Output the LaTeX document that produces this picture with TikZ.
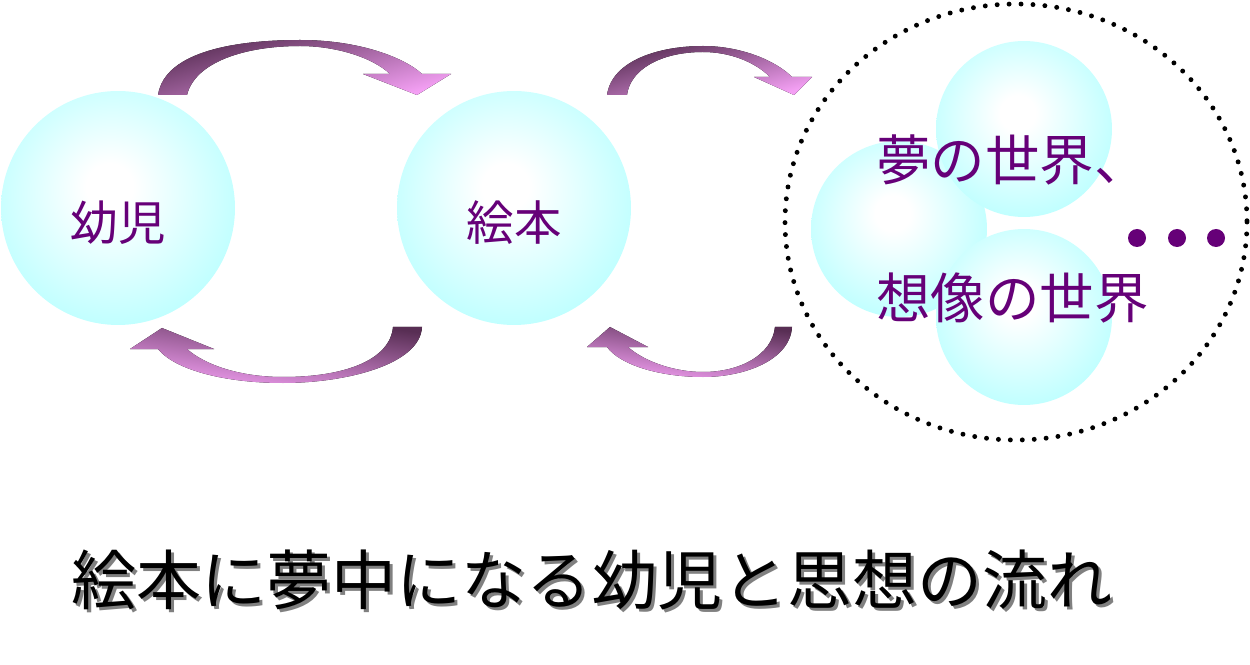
\documentclass[tikz,border=0pt]{standalone}
\usepackage{fontspec}
\newfontfamily\jp{Noto Sans CJK JP}

\definecolor{bubblecyan}{RGB}{182,255,255}
\definecolor{inkpurple}{RGB}{102,0,120}
\definecolor{arrowdark}{RGB}{88,46,84}
\definecolor{arrowlight}{RGB}{244,160,244}

\pgfdeclareradialshading{bubbleshade}{\pgfpoint{-2bp}{5bp}}{color(0bp)=(white); color(5bp)=(white); color(31bp)=(bubblecyan); color(50bp)=(bubblecyan)}

\tikzset{
  bubble/.style={circle, inner sep=0pt, shading=bubbleshade, draw=none},
  bigbubble/.style={bubble, minimum size=4.68cm},
  smallbubble/.style={bubble, minimum size=3.52cm},
  purpletext/.style={text=inkpurple, inner sep=0pt},
  flowarrowdown/.style={top color=arrowdark, bottom color=arrowlight, shading angle=15},
  flowarrowup/.style={top color=arrowdark, bottom color=arrowlight, shading angle=-8},
}

\begin{document}
\begin{tikzpicture}[x=0.02cm, y=-0.02cm]

    \useasboundingbox (0,0) rectangle (1250,665);
    \fill[white] (0,0) rectangle (1250,665);

    % two big circles
    \node[bigbubble] (child) at (118,208) {};
    \node[bigbubble] (book) at (514,208) {};
    \node[purpletext, font=\jp\fontsize{27pt}{27pt}\selectfont] (childtext) at (118,223) {幼児};
    \node[purpletext, font=\jp\fontsize{27pt}{27pt}\selectfont] (booktext) at (514,223) {絵本};

    % world of dreams
    \draw[line width=2.8pt, line cap=round, dash pattern=on 0pt off 6.8pt] (1016,222) ellipse [x radius=231, y radius=218];
    \node[smallbubble] (worldleft) at (899,229) {};
    \node[smallbubble] (worldtop) at (1024,129) {};
    \node[smallbubble] (worldbottom) at (1024,317) {};
    \node[purpletext, anchor=west, font=\jp\fontsize{31pt}{31pt}\selectfont] (dream) at (876,160) {夢の世界、};
    \node[purpletext, anchor=west, font=\jp\fontsize{31pt}{31pt}\selectfont] (imagine) at (876,298) {想像の世界};
    \foreach \x in {1137,1177,1216} {
      \fill[inkpurple] (\x,238) circle (9);
    }

    % curved arrows
    \fill[flowarrowdown] (158,95) .. controls (165,50) and (240,40) .. (300,40)
      .. controls (360,40) and (405,58) .. (422,74) -- (451,74) -- (417,95) -- (363,74) -- (390,74)
      .. controls (372,57) and (335,46) .. (300,46) .. controls (245,46) and (195,62) .. (187,95) -- cycle;
    \fill[flowarrowdown] (607,95) .. controls (612,60) and (660,46) .. (703,46)
      .. controls (740,46) and (775,60) .. (792,77) -- (812,77) -- (794,95) -- (754,77) -- (770,77)
      .. controls (755,62) and (730,52) .. (703,52) .. controls (660,52) and (630,70) .. (627,95) -- cycle;
    \fill[flowarrowup] (422,327) .. controls (420,365) and (345,383) .. (283,383)
      .. controls (225,383) and (175,370) .. (158,349) -- (130,349) -- (162,328) -- (214,349) -- (187,349)
      .. controls (205,365) and (240,377) .. (283,377) .. controls (345,377) and (390,360) .. (393,327) -- cycle;
    \fill[flowarrowup] (792,327) .. controls (790,360) and (745,377) .. (703,377)
      .. controls (660,377) and (620,365) .. (607,347) -- (587,347) -- (610,327) -- (648,347) -- (628,347)
      .. controls (645,362) and (675,372) .. (703,372) .. controls (740,372) and (772,355) .. (775,327) -- cycle;

    % title
    \node[text=gray, font=\jp\fontsize{37pt}{37pt}\selectfont] (titleshadow) at (595,583) {絵本に夢中になる幼児と思想の流れ};
    \node[text=black, font=\jp\fontsize{37pt}{37pt}\selectfont] (title) at (592,580) {絵本に夢中になる幼児と思想の流れ};

\end{tikzpicture}
\end{document}
